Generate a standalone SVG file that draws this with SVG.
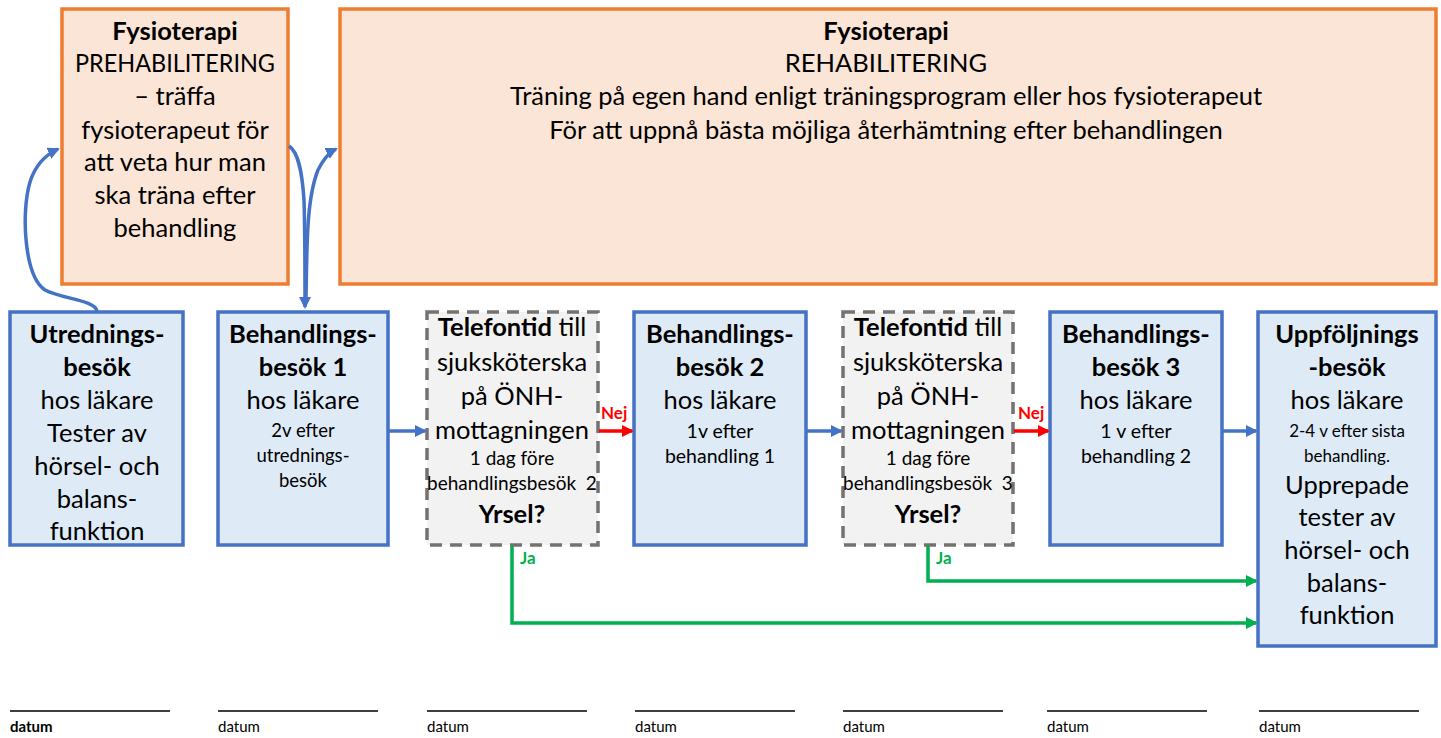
<svg xmlns="http://www.w3.org/2000/svg" width="1441" height="738" viewBox="0 0 1441 738">
<defs>
<style>
.t{font-family:Lato,"Liberation Sans",sans-serif;fill:#000;text-anchor:middle}
.L{font-size:25.5px}
.S{font-size:18.5px}
.S2{font-size:19.5px}
.S4{font-size:19px}
.S3{font-size:17px}
.b{font-weight:bold}
.orange{fill:#FBE5D6;stroke:#ED7D31;stroke-width:3.5}
.blue{fill:#DEEBF7;stroke:#4472C4;stroke-width:3.5}
.gray{fill:#F2F2F2;stroke:#767171;stroke-width:3.5;stroke-dasharray:12 8}
.cb{fill:none;stroke:#4472C4;stroke-width:3.5}
.cr{fill:none;stroke:#FF0000;stroke-width:3.5}
.cg{fill:none;stroke:#00B050;stroke-width:3.5}
.lbl{font-family:Lato,"Liberation Sans",sans-serif;font-size:17px;font-weight:bold}
.dt{font-family:Lato,"Liberation Sans",sans-serif;font-size:15px;fill:#000}
.dl{stroke:#000;stroke-width:1.5}
</style>
<marker id="ab" markerWidth="12" markerHeight="12" refX="10" refY="6" orient="auto" markerUnits="userSpaceOnUse" viewBox="0 0 12 12"><path d="M0,0 L12,6 L0,12 Z" fill="#4472C4"/></marker>
<marker id="ar" markerWidth="12" markerHeight="12" refX="10" refY="6" orient="auto" markerUnits="userSpaceOnUse" viewBox="0 0 12 12"><path d="M0,0 L12,6 L0,12 Z" fill="#FF0000"/></marker>
<marker id="ag" markerWidth="12" markerHeight="12" refX="10" refY="6" orient="auto" markerUnits="userSpaceOnUse" viewBox="0 0 12 12"><path d="M0,0 L12,6 L0,12 Z" fill="#00B050"/></marker>
</defs>

<g id="prehab">
<rect class="orange" x="62" y="9" width="226" height="275"/>
<text class="t L b" x="175" y="40">Fysioterapi</text>
<text class="t L" x="175" y="72" textLength="200" lengthAdjust="spacingAndGlyphs">PREHABILITERING</text>
<text class="t L" x="175" y="105">– träffa</text>
<text class="t L" x="175" y="139">fysioterapeut för</text>
<text class="t L" x="175" y="171">att veta hur man</text>
<text class="t L" x="175" y="204">ska träna efter</text>
<text class="t L" x="175" y="237">behandling</text>
</g>

<g id="rehab">
<rect class="orange" x="340" y="9" width="1096" height="275"/>
<text class="t L b" x="886" y="40">Fysioterapi</text>
<text class="t L" x="886" y="72">REHABILITERING</text>
<text class="t L" x="886" y="105">Träning på egen hand enligt träningsprogram eller hos fysioterapeut</text>
<text class="t L" x="886" y="139">För att uppnå bästa möjliga återhämtning efter behandlingen</text>
</g>

<g id="utredning">
<rect class="blue" x="10" y="312" width="173" height="233"/>
<text class="t L b" x="97" y="343">Utrednings-</text>
<text class="t L b" x="97" y="376">besök</text>
<text class="t L" x="97" y="409">hos läkare</text>
<text class="t L" x="97" y="442">Tester av</text>
<text class="t L" x="97" y="475">hörsel- och</text>
<text class="t L" x="97" y="508">balans-</text>
<text class="t L" x="97" y="540">funktion</text>
</g>

<g id="beh1">
<rect class="blue" x="218" y="312" width="170" height="233"/>
<text class="t L b" x="303" y="343">Behandlings-</text>
<text class="t L b" x="303" y="376">besök 1</text>
<text class="t L" x="303" y="409">hos läkare</text>
<text class="t S" x="303" y="437">2v efter</text>
<text class="t S" x="303" y="462">utrednings-</text>
<text class="t S" x="303" y="487">besök</text>
</g>

<g id="tel1">
<rect class="gray" x="427" y="312" width="171" height="233"/>
<text class="t L" x="512" y="336"><tspan class="b">Telefontid</tspan> till</text>
<text class="t L" x="512" y="371">sjuksköterska</text>
<text class="t L" x="512" y="405">på ÖNH-</text>
<text class="t L" x="512" y="439">mottagningen</text>
<text class="t S4" x="512" y="465">1 dag före</text>
<text class="t S4" x="512" y="490" xml:space="preserve">behandlingsbesök  2</text>
<text class="t L b" x="512" y="523">Yrsel?</text>
</g>

<g id="beh2">
<rect class="blue" x="634" y="312" width="172" height="233"/>
<text class="t L b" x="720" y="343">Behandlings-</text>
<text class="t L b" x="720" y="376">besök 2</text>
<text class="t L" x="720" y="409">hos läkare</text>
<text class="t S2" x="720" y="438">1v efter</text>
<text class="t S2" x="720" y="463">behandling 1</text>
</g>

<g id="tel2">
<rect class="gray" x="843" y="312" width="170" height="233"/>
<text class="t L" x="928" y="336"><tspan class="b">Telefontid</tspan> till</text>
<text class="t L" x="928" y="371">sjuksköterska</text>
<text class="t L" x="928" y="405">på ÖNH-</text>
<text class="t L" x="928" y="439">mottagningen</text>
<text class="t S4" x="928" y="465">1 dag före</text>
<text class="t S4" x="928" y="490" xml:space="preserve">behandlingsbesök  3</text>
<text class="t L b" x="928" y="523">Yrsel?</text>
</g>

<g id="beh3">
<rect class="blue" x="1050" y="312" width="172" height="233"/>
<text class="t L b" x="1136" y="343">Behandlings-</text>
<text class="t L b" x="1136" y="376">besök 3</text>
<text class="t L" x="1136" y="409">hos läkare</text>
<text class="t S2" x="1136" y="438">1 v efter</text>
<text class="t S2" x="1136" y="463">behandling 2</text>
</g>

<g id="uppfoljning">
<rect class="blue" x="1258" y="312" width="178" height="334"/>
<text class="t L b" x="1347" y="343">Uppföljnings</text>
<text class="t L b" x="1347" y="376">-besök</text>
<text class="t L" x="1347" y="409">hos läkare</text>
<text class="t S3" x="1347" y="437">2-4 v efter sista</text>
<text class="t S3" x="1347" y="462">behandling.</text>
<text class="t L" x="1347" y="494">Upprepade</text>
<text class="t L" x="1347" y="526">tester av</text>
<text class="t L" x="1347" y="559">hörsel- och</text>
<text class="t L" x="1347" y="592">balans-</text>
<text class="t L" x="1347" y="624">funktion</text>
</g>

<g id="connectors">
<path class="cb" d="M97,311 C95,300 62,299 45,290 C24,276 21,212 30,182 C35,166 45,155 58,149" marker-end="url(#ab)"/>
<path class="cb" d="M289,146 C298,152 302,170 304,200 C305,230 305,270 305,307" marker-end="url(#ab)"/>
<path class="cb" d="M306,298 C307,250 306,200 318,170 C324,158 330,152 336,149" marker-end="url(#ab)"/>
<line class="cb" x1="389" y1="431" x2="425" y2="431" marker-end="url(#ab)"/>
<line class="cr" x1="599" y1="431" x2="632" y2="431" marker-end="url(#ar)"/>
<line class="cb" x1="807" y1="431" x2="841" y2="431" marker-end="url(#ab)"/>
<line class="cr" x1="1014" y1="431" x2="1048" y2="431" marker-end="url(#ar)"/>
<line class="cb" x1="1223" y1="431" x2="1256" y2="431" marker-end="url(#ab)"/>
<path class="cg" d="M512,546 L512,623 L1256,623" marker-end="url(#ag)"/>
<path class="cg" d="M928,546 L928,581 L1256,581" marker-end="url(#ag)"/>
<text class="lbl" x="601" y="419" fill="#FF0000">Nej</text>
<text class="lbl" x="1018" y="419" fill="#FF0000">Nej</text>
<text class="lbl" x="520" y="564" fill="#00B050">Ja</text>
<text class="lbl" x="936" y="564" fill="#00B050">Ja</text>
</g>

<g id="datum">
<line class="dl" x1="10" y1="711" x2="170" y2="711"/>
<line class="dl" x1="218" y1="711" x2="378" y2="711"/>
<line class="dl" x1="427" y1="711" x2="587" y2="711"/>
<line class="dl" x1="635" y1="711" x2="795" y2="711"/>
<line class="dl" x1="843" y1="711" x2="1003" y2="711"/>
<line class="dl" x1="1047" y1="711" x2="1207" y2="711"/>
<line class="dl" x1="1259" y1="711" x2="1419" y2="711"/>
<text class="dt" x="10" y="732" font-weight="bold">datum</text>
<text class="dt" x="218" y="732">datum</text>
<text class="dt" x="427" y="732">datum</text>
<text class="dt" x="635" y="732">datum</text>
<text class="dt" x="843" y="732">datum</text>
<text class="dt" x="1047" y="732">datum</text>
<text class="dt" x="1259" y="732">datum</text>
</g>
</svg>
